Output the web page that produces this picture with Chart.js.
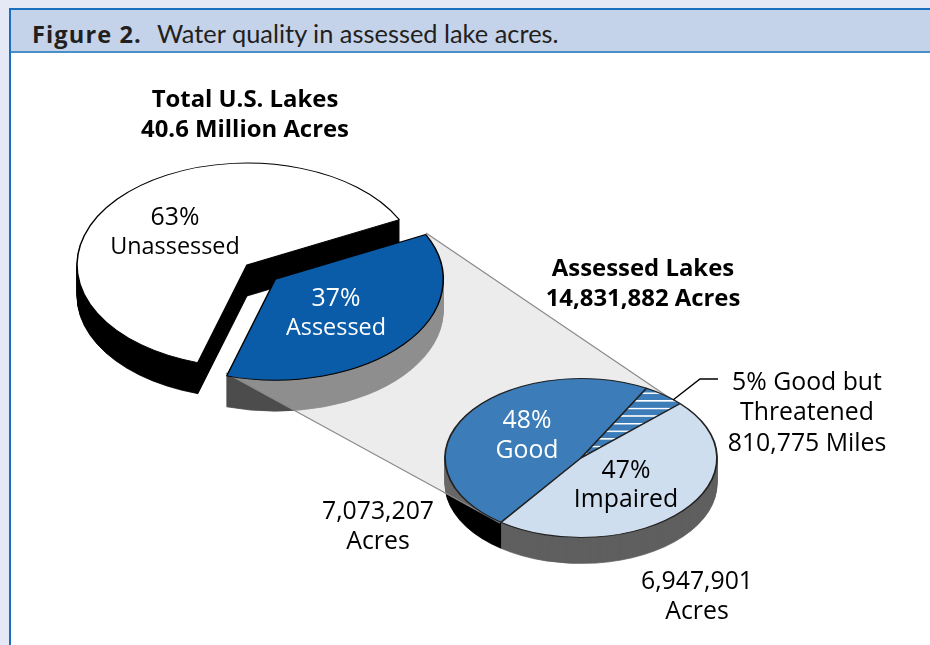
<!DOCTYPE html>
<html>
<head>
<meta charset="utf-8">
<script src="https://cdn.jsdelivr.net/npm/chart.js@4"></script>
<style>
html,body{margin:0;padding:0;width:930px;height:645px;overflow:hidden;background:#e4e9f5;font-family:"Open Sans",sans-serif;color:#000}
#panel{position:absolute;left:9px;top:8px;width:921px;height:637px;background:#fff;border-left:2px solid #1a70be;border-top:2px solid #1a70be;box-sizing:border-box}
#band{position:absolute;left:11px;top:10px;width:919px;height:41px;background:#c5d3ea;border-bottom:2px solid #4a90c8}
#cap{position:absolute;left:32px;top:18px;font-size:25.4px;line-height:30px;white-space:pre;color:#231f20;font-family:Lato,sans-serif}
#cap b{font-family:"Open Sans",sans-serif;font-weight:700;font-size:23.6px;letter-spacing:1.1px}
#cap span{position:absolute;left:125px;top:0}
canvas{position:absolute;left:0;top:0}
.t{position:absolute;transform:translate(-50%,-50%);white-space:nowrap;font-size:24.8px;line-height:30px}
.s{font-size:23.4px}
.b{font-weight:700;font-size:23.9px}
.w{color:#fff}
</style>
</head>
<body>
<div id="panel"></div>
<div id="band"></div>
<div id="cap"><b>Figure 2.</b><span>Water quality in assessed lake acres.</span></div>
<canvas id="c" width="930" height="645"></canvas>
<script>
// ---- data ----
const totalCategories = ['Unassessed', 'Assessed'];
const totalValues = [63, 37];
const assessedCategories = ['Good', 'Good but Threatened', 'Impaired'];
const assessedValues = [48, 5, 47];

// ---- text ----
const textRows = [
  ['Total U.S. Lakes', 245, 98, 'b'], ['40.6 Million Acres', 245, 128, 'b'],
  ['63%', 175, 215, ''], ['Unassessed', 175, 245, 's'],
  ['37%', 336, 296, 'w'], ['Assessed', 336, 326, 's w'],
  ['Assessed Lakes', 643, 267, 'b'], ['14,831,882 Acres', 643, 297, 'b'],
  ['5% Good but', 807, 380, ''], ['Threatened', 807, 410, ''], ['810,775 Miles', 807, 441, ''],
  ['48%', 527, 418, 'w'], ['Good', 527, 448, 'w'],
  ['47%', 626, 468, ''], ['Impaired', 626, 497, ''],
  ['7,073,207', 378, 509, ''], ['Acres', 378, 539, ''],
  ['6,947,901', 697, 579, ''], ['Acres', 697, 609, '']
];
textRows.forEach(([s, x, y, cls]) => {
  const d = document.createElement('div');
  d.className = 't ' + cls;
  d.textContent = s;
  d.style.left = x + 'px';
  d.style.top = y + 'px';
  document.body.appendChild(d);
});

// ---- styles and layout ----
function hatch() {
  const p = document.createElement('canvas');
  p.width = 8; p.height = 13;
  const g = p.getContext('2d');
  g.fillStyle = '#3c7db9'; g.fillRect(0, 0, 8, 13);
  g.fillStyle = '#ffffff'; g.fillRect(0, 5, 8, 2.6);
  return g.createPattern(p, 'repeat');
}
const pies = [
  { cx: 247, cy: 265, r: 170, k: 0.6, depth: 31, gaps: [0, 37], radii: [170, 168],
    sides: ['#000000', '#4d4d4d'], edge: '#000000' },
  { cx: 581, cy: 458, r: 136, k: 0.585, depth: 26, gaps: [0, 0, 0], radii: [136, 136, 136],
    sides: ['#000000', '#000000', '#5f5f5f'], edge: '#222222' }
];
const funnel = { a: [426, 233], b: [680, 405], c: [500, 523], d: [226, 373] };
const leader = [[673, 400], [700, 379], [718, 379]];

const stagePlugin = {
  id: 'stage',
  afterDatasetsUpdate(chart) {
    pies.forEach((p, i) => {
      chart.getDatasetMeta(i).data.forEach((el, j) => {
        const mid = (el.startAngle + el.endAngle) / 2;
        el.x = Math.cos(mid) * p.gaps[j];
        el.y = Math.sin(mid) * p.gaps[j];
        el.innerRadius = 0;
        el.outerRadius = p.radii[j];
      });
    });
  },
  beforeDatasetsDraw(chart) {
    const ctx = chart.ctx;
    const place = (p, d) => { ctx.translate(p.cx, p.cy + d); ctx.scale(1, p.k); };
    // extruded sides
    pies.forEach((p, i) => {
      chart.getDatasetMeta(i).data.forEach((el, j) => {
        const saved = el.options;
        el.options = Object.assign({}, saved, { backgroundColor: p.sides[j], borderColor: p.sides[j], borderWidth: 1 });
        for (let d = p.depth; d >= 1; d--) {
          ctx.save(); place(p, d); el.draw(ctx); ctx.restore();
        }
        el.options = saved;
      });
    });
    // translucent funnel between the two pies
    ctx.save();
    ctx.beginPath();
    ctx.moveTo(...funnel.a); ctx.lineTo(...funnel.b); ctx.lineTo(...funnel.c); ctx.lineTo(...funnel.d);
    ctx.closePath();
    ctx.fillStyle = 'rgba(215,215,215,0.48)';
    ctx.fill();
    ctx.strokeStyle = '#8a8a8a';
    ctx.lineWidth = 1.2;
    ctx.beginPath();
    ctx.moveTo(...funnel.a); ctx.lineTo(...funnel.b);
    ctx.moveTo(...funnel.d); ctx.lineTo(...funnel.c);
    ctx.stroke();
    ctx.restore();
    // top faces
    pies.forEach((p, i) => {
      chart.getDatasetMeta(i).data.forEach(el => {
        ctx.save(); place(p, 0); el.draw(ctx); ctx.restore();
      });
    });
    // leader line
    ctx.save();
    ctx.strokeStyle = '#000';
    ctx.lineWidth = 1.4;
    ctx.beginPath();
    leader.forEach((q, n) => n ? ctx.lineTo(...q) : ctx.moveTo(...q));
    ctx.stroke();
    ctx.restore();
    return false;
  }
};

new Chart(document.getElementById('c'), {
  type: 'pie',
  data: {
    labels: totalCategories,
    datasets: [
      { label: 'Total U.S. Lakes', data: totalValues, rotation: 196.8,
        backgroundColor: ['#ffffff', '#0b5ca8'], borderColor: '#000000', borderWidth: 1.5 },
      { label: 'Assessed Lakes', data: assessedValues, rotation: 216,
        backgroundColor: ['#3c7db9', hatch(), '#cfdeee'], borderColor: '#222222', borderWidth: 1.8 }
    ]
  },
  options: {
    responsive: false,
    animation: false,
    events: [],
    plugins: { legend: { display: false }, tooltip: { enabled: false }, title: { display: false } }
  },
  plugins: [stagePlugin]
});
</script>
</body>
</html>
